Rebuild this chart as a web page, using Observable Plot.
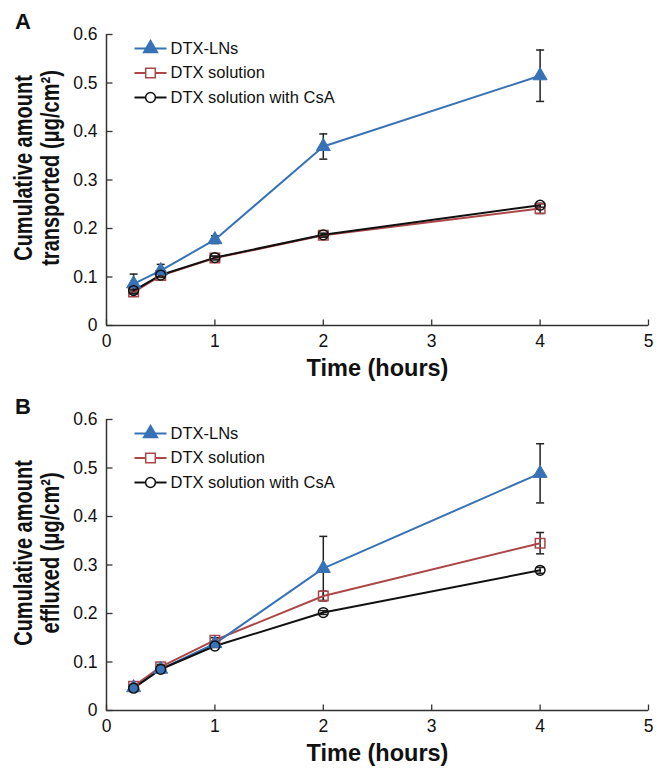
<!DOCTYPE html>
<html><head><meta charset="utf-8">
<script src="https://cdn.jsdelivr.net/npm/d3@7"></script>
<script src="https://cdn.jsdelivr.net/npm/@observablehq/plot@0.6"></script>
<style>
body{margin:0;background:#fff;}
#chart{width:664px;}
#chart svg{display:block;}
</style>
</head><body><div id="chart"></div>
<script>
// ---- data ----
const times = [0.25, 0.5, 1, 2, 4];
const seriesNames = ["DTX-LNs", "DTX solution", "DTX solution with CsA"];
const seriesColors = ["#3772b6", "#ad4647", "#111111"];
const seriesSymbols = ["triangle", "square", "circle"];
const xTicks = [0, 1, 2, 3, 4, 5];
const yTicks = [0, 0.1, 0.2, 0.3, 0.4, 0.5, 0.6];

// Panel A: transported
const aLN = [0.086, 0.113, 0.177, 0.369, 0.515];
const aLNErr = [0.020, 0.013, 0.008, 0.026, 0.053];
const aSol = [0.069, 0.103, 0.139, 0.186, 0.241];
const aSolErr = [0.004, 0.004, 0.004, 0.004, 0.010];
const aCsA = [0.072, 0.104, 0.140, 0.187, 0.248];
const aCsAErr = [0.003, 0.003, 0.003, 0.003, 0.004];

// Panel B: effluxed
const bLN = [0.047, 0.085, 0.138, 0.293, 0.489];
const bLNErr = [0.004, 0.005, 0.005, 0.066, 0.061];
const bSol = [0.050, 0.090, 0.145, 0.236, 0.345];
const bSolErr = [0.004, 0.005, 0.005, 0.010, 0.022];
const bCsA = [0.046, 0.085, 0.133, 0.202, 0.289];
const bCsAErr = [0.003, 0.003, 0.003, 0.004, 0.006];

// ---- helpers ----
const capSym = {draw(ctx) { ctx.moveTo(-4, 0); ctx.lineTo(4, 0); }};
const legendLineSym = {draw(ctx) { ctx.moveTo(-16, 0); ctx.lineTo(16, 0); }};
const xTickSym = {draw(ctx) { ctx.moveTo(0, 0); ctx.lineTo(0, -6); }};
const yTickSym = {draw(ctx) { ctx.moveTo(0, 0); ctx.lineTo(6, 0); }};

function buildRows(values, errs) {
  const rows = [];
  values.forEach((vals, s) => {
    vals.forEach((v, i) => {
      rows.push({series: s, t: times[i], v, lo: v - errs[s][i], hi: v + errs[s][i]});
    });
  });
  return rows;
}

function panel({letter, values, errs, ylabel, marginTop, marginBottom}) {
  const rows = buildRows(values, errs);
  const marks = [];
  // axes lines
  marks.push(Plot.ruleX([0], {stroke: "#333", strokeWidth: 1.5}));
  marks.push(Plot.ruleY([0], {stroke: "#333", strokeWidth: 1.5}));
  // inward ticks
  marks.push(Plot.dot(xTicks, {x: d => d, y: 0, symbol: xTickSym, fill: "none", stroke: "#333", strokeWidth: 1.3}));
  marks.push(Plot.dot(yTicks, {x: 0, y: d => d, symbol: yTickSym, fill: "none", stroke: "#333", strokeWidth: 1.3}));
  // tick labels
  marks.push(Plot.text(xTicks, {x: d => d, y: 0, text: d => String(d), dy: 16, fontSize: 17.5, fill: "#111"}));
  marks.push(Plot.text(yTicks, {x: 0, y: d => d, text: d => d === 0 ? "0" : d.toFixed(1), dx: -9, textAnchor: "end", fontSize: 17.5, fill: "#111"}));
  // axis titles
  marks.push(Plot.text(["Time (hours)"], {frameAnchor: "bottom", text: d => d, dy: 43, textAnchor: "middle", lineAnchor: "middle", fontSize: 23.5, fontWeight: "bold", fill: "#111"}));
  marks.push(Plot.text([ylabel], {frameAnchor: "left", text: d => d, rotate: -90, dx: -69.5, dy: -12, textAnchor: "middle", lineAnchor: "middle", fontSize: 26, fontWeight: "bold", lineHeight: 1.04, fill: "#111"}));
  // panel letter
  marks.push(Plot.text([letter], {frameAnchor: "top-left", text: d => d, dx: -83.5, dy: -12.5, textAnchor: "middle", lineAnchor: "middle", fontSize: 22, fontWeight: "bold", fill: "#111"}));
  // error bars
  marks.push(Plot.ruleX(rows, {x: "t", y1: "lo", y2: "hi", stroke: "#222", strokeWidth: 1.5}));
  marks.push(Plot.dot(rows, {x: "t", y: "hi", symbol: capSym, fill: "none", stroke: "#222", strokeWidth: 1.5}));
  marks.push(Plot.dot(rows, {x: "t", y: "lo", symbol: capSym, fill: "none", stroke: "#222", strokeWidth: 1.5}));
  // lines + markers
  const order = [1, 0, 2];
  for (const s of order) {
    const data = rows.filter(r => r.series === s);
    marks.push(Plot.line(data, {x: "t", y: "v", stroke: seriesColors[s], strokeWidth: 2}));
  }
  for (const s of order) {
    const data = rows.filter(r => r.series === s);
    if (s === 0) {
      marks.push(Plot.dot(data, {x: "t", y: "v", symbol: "triangle", r: 5.2, fill: seriesColors[s], stroke: seriesColors[s], strokeWidth: 1}));
    } else {
      marks.push(Plot.dot(data, {x: "t", y: "v", symbol: seriesSymbols[s], r: s === 1 ? 5.4 : 4.9, fill: "none", stroke: seriesColors[s], strokeWidth: 1.5}));
    }
  }
  // legend
  seriesNames.forEach((name, s) => {
    const dy = 14 + s * 24.5;
    marks.push(Plot.dot([name], {frameAnchor: "top-left", dx: 44, dy, symbol: legendLineSym, fill: "none", stroke: seriesColors[s], strokeWidth: 2}));
    if (s === 0) {
      marks.push(Plot.dot([name], {frameAnchor: "top-left", dx: 44, dy, symbol: "triangle", r: 5.2, fill: seriesColors[s], stroke: seriesColors[s]}));
    } else {
      marks.push(Plot.dot([name], {frameAnchor: "top-left", dx: 44, dy, symbol: seriesSymbols[s], r: s === 1 ? 5.4 : 4.9, fill: "white", stroke: seriesColors[s], strokeWidth: 1.5}));
    }
    marks.push(Plot.text([name], {frameAnchor: "top-left", dx: 64, dy, text: d => d, textAnchor: "start", lineAnchor: "middle", fontSize: 16.5, fill: "#111"}));
  });

  const svg = Plot.plot({
    width: 664,
    height: 388,
    marginLeft: 106,
    marginRight: 16,
    marginTop,
    marginBottom,
    x: {domain: [0, 5], axis: null},
    y: {domain: [0, 0.6], axis: null},
    style: {fontFamily: "'Liberation Sans', Arial, Helvetica, sans-serif", background: "white", overflow: "visible"},
    marks
  });
  // condense the rotated y-axis title along its length, as in the reference
  svg.querySelectorAll("text").forEach(t => {
    const tr = t.getAttribute("transform");
    if (tr && tr.includes("rotate")) t.setAttribute("transform", tr + " scale(0.77,1)");
  });
  return svg;
}

const chart = document.getElementById("chart");
chart.appendChild(panel({
  letter: "A",
  values: [aLN, aSol, aCsA],
  errs: [aLNErr, aSolErr, aCsAErr],
  ylabel: "Cumulative amount\ntransported (μg/cm²)",
  marginTop: 34, marginBottom: 63
}));
chart.appendChild(panel({
  letter: "B",
  values: [bLN, bSol, bCsA],
  errs: [bLNErr, bSolErr, bCsAErr],
  ylabel: "Cumulative amount\neffluxed (μg/cm²)",
  marginTop: 31, marginBottom: 66
}));
</script>
</body></html>
